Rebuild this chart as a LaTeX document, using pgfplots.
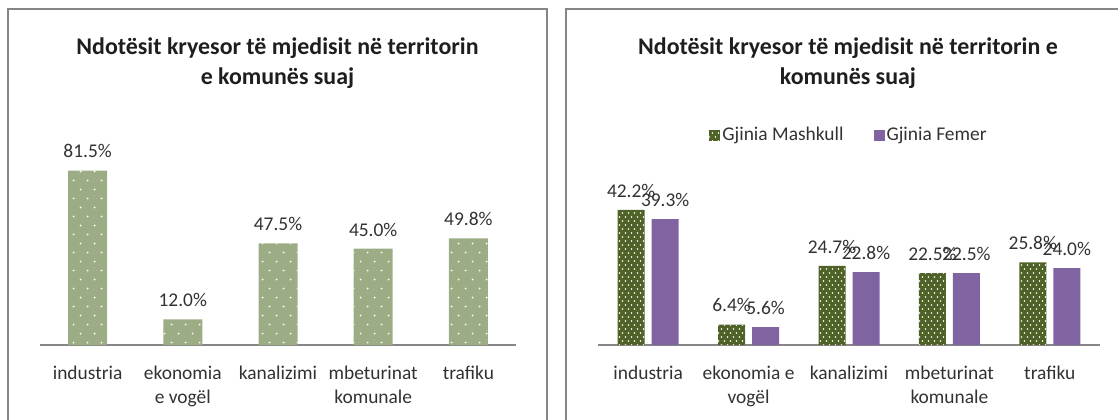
\documentclass[border=0pt]{standalone}
\usepackage{pgfplots}
\pgfplotsset{compat=1.18}
\usepackage{fontspec}
\setmainfont{Carlito}
\usetikzlibrary{patterns}
\definecolor{lgreen}{RGB}{156,172,132}
\definecolor{dgreen}{RGB}{79,98,40}
\definecolor{purp}{RGB}{128,100,162}
\definecolor{framec}{RGB}{134,134,134}
\definecolor{txt}{RGB}{50,50,50}
\definecolor{ttl}{RGB}{30,30,30}
\pgfdeclarepatternformonly{ldots}{\pgfpoint{-1pt}{-1pt}}{\pgfpoint{15pt}{19pt}}{\pgfpoint{14bp}{18bp}}{%
  \pgfpathcircle{\pgfpoint{3.5bp}{4.5bp}}{1bp}%
  \pgfpathcircle{\pgfpoint{10.5bp}{13.5bp}}{1bp}%
  \pgfusepath{fill}}
\pgfdeclarepatternformonly{rdots}{\pgfpoint{-1pt}{-1pt}}{\pgfpoint{7pt}{9pt}}{\pgfpoint{6bp}{8bp}}{%
  \pgfpathcircle{\pgfpoint{1.5bp}{2bp}}{0.8bp}%
  \pgfpathcircle{\pgfpoint{4.5bp}{6bp}}{0.8bp}%
  \pgfusepath{fill}}
\pgfplotsset{sqlegend/.style={legend image code/.code={\draw[##1,draw=none] (0bp,-5.5bp) rectangle (11bp,5.5bp);}}}
\newcommand\lblfont{\fontsize{19.5}{24.5}\selectfont}
\newcommand\titlefont{\fontsize{24}{28}\selectfont\bfseries}
\begin{document}
\begin{tikzpicture}[x=1bp,y=1bp]
\useasboundingbox (0,0) rectangle (1118,419);
\clip (0,0) rectangle (1118,419);
\draw[framec, line width=1.8bp] (8,-5) -- (8,410) -- (547,410) -- (547,-5);
\draw[framec, line width=1.8bp] (566,-5) -- (566,410) -- (1135,410);
\node[anchor=base, font=\titlefont, text=ttl] at (277.5,365) {Ndotësit kryesor të mjedisit në territorin};
\node[anchor=base, font=\titlefont, text=ttl] at (277.5,335) {e komunës suaj};
\node[anchor=base, font=\titlefont, text=ttl] at (848,365) {Ndotësit kryesor të mjedisit në territorin e};
\node[anchor=base, font=\titlefont, text=ttl] at (848,335) {komunës suaj};

\begin{axis}[at={(40bp,74bp)}, anchor=south west, scale only axis,
  width=476bp, height=192.6bp,
  xmin=-0.5, xmax=4.5, ymin=0, ymax=90,
  axis y line=none, axis x line*=bottom,
  x axis line style={framec, line width=2.2bp},
  xtick=data,
  xticklabels={industria, {ekonomia\\e vogël}, kanalizimi, {mbeturinat\\komunale}, trafiku},
  xticklabel style={align=center, font=\lblfont, text=txt, yshift=-17bp},
  major tick length=0pt,
  ybar, bar width=39bp, clip=false,
  nodes near coords={\pgfmathprintnumber[assume math mode=true,fixed,fixed zerofill,precision=1]{\pgfplotspointmeta}\%},
  every node near coord/.append style={font=\lblfont, text=txt, yshift=9bp},
]
\addplot[fill=lgreen, draw=none, postaction={pattern=ldots, pattern color=white}]
  coordinates {(0,81.5) (1,12.0) (2,47.5) (3,45.0) (4,49.8)};
\end{axis}

\begin{axis}[at={(598bp,74bp)}, anchor=south west, scale only axis,
  width=502bp, height=160bp,
  xmin=-0.5, xmax=4.5, ymin=0, ymax=50,
  axis y line=none, axis x line*=bottom,
  x axis line style={framec, line width=2.2bp},
  xtick=data,
  xticklabels={industria, {ekonomia e\\vogël}, kanalizimi, {mbeturinat\\komunale}, trafiku},
  xticklabel style={align=center, font=\lblfont, text=txt, yshift=-17bp},
  major tick length=0pt,
  ybar=7bp, bar width=27bp, clip=false,
  nodes near coords={\pgfmathprintnumber[assume math mode=true,fixed,fixed zerofill,precision=1]{\pgfplotspointmeta}\%},
  every node near coord/.append style={font=\lblfont, text=txt, yshift=9bp},
  legend style={at={(0.5,1.3125)}, anchor=center, draw=none, fill=none, legend columns=2,
    font=\lblfont, text=txt, /tikz/every even column/.append style={column sep=28bp}},
]
\addplot[fill=dgreen, draw=none, postaction={pattern=rdots, pattern color=white}, sqlegend]
  coordinates {(0,42.2) (1,6.4) (2,24.7) (3,22.5) (4,25.8)};
\addlegendentry{Gjinia Mashkull}
\addplot[fill=purp, draw=none, sqlegend]
  coordinates {(0,39.3) (1,5.6) (2,22.8) (3,22.5) (4,24.0)};
\addlegendentry{Gjinia Femer}
\end{axis}
\end{tikzpicture}
\end{document}
